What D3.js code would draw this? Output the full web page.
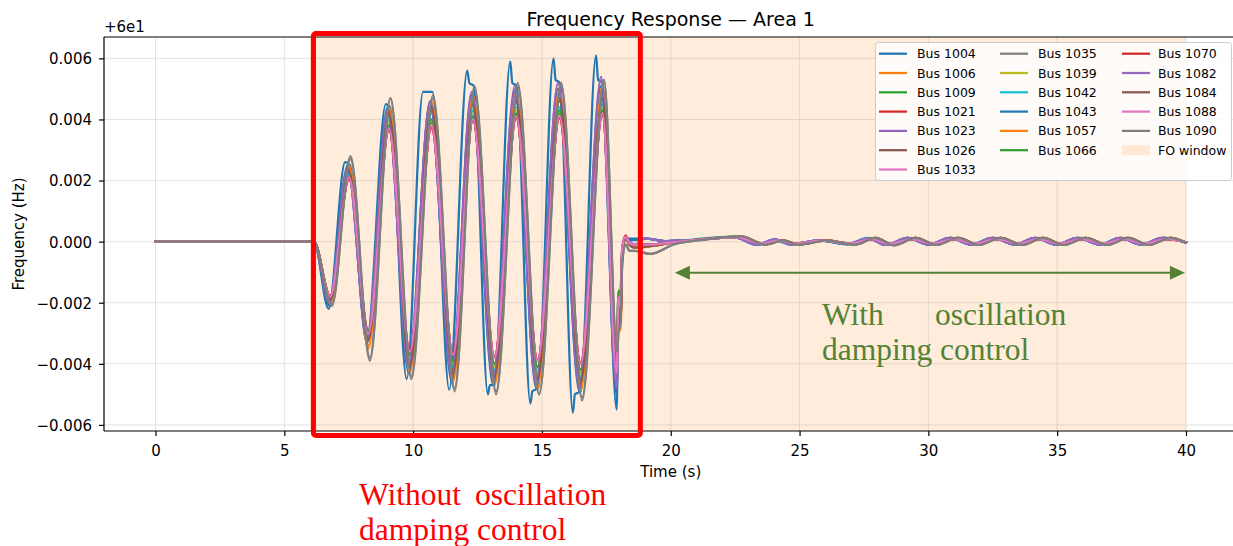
<!DOCTYPE html>
<html>
<head>
<meta charset="utf-8">
<script src="https://cdn.jsdelivr.net/npm/d3@7"></script>
<style>
  body { margin: 0; background: #fff; }
  svg { display: block; }
  text { font-family: "DejaVu Sans", sans-serif; fill: #000; }
  .serif { font-family: "Liberation Serif", "Times New Roman", serif; }
</style>
</head>
<body>
<svg id="chart" width="1233" height="546"></svg>
<script>
// ---- axis ticks and window ----
const xTicks = [0, 5, 10, 15, 20, 25, 30, 35, 40];
const yTicks = [-0.006, -0.004, -0.002, 0, 0.002, 0.004, 0.006];
const foWindow = [6, 40];

// ---- time bases (s) ----
const flatTimes = [0, 6.15];
const flatValues = [0, 0];
const swingTimes = [6.78, 7.51, 8.26, 9.06, 9.87, 10.71, 11.55, 12.32, 13.16, 14.0, 14.83, 15.68, 16.5, 17.35, 17.9];
const leadTimes  = [6.75, 7.46, 8.22, 9.01, 9.83, 10.66, 11.5, 12.27, 13.11, 13.95, 14.78, 15.63, 16.45, 17.3, 17.9];
const lagTimes   = [6.84, 7.57, 8.32, 9.12, 9.93, 10.77, 11.61, 12.38, 13.22, 14.06, 14.89, 15.74, 16.56, 17.41, 17.92];
const bus1004Times = [6.72, 7.36, 7.55, 8.2, 8.94, 9.1, 9.75, 10.38, 10.75, 11.4, 12.1, 12.18, 12.35, 12.9, 12.98, 13.15,
                      13.77, 13.85, 14.02, 14.55, 14.63, 14.85, 15.45, 15.53, 15.7, 16.2, 16.28, 16.5, 17.1, 17.18, 17.35, 17.9];
const settleTimes = [17.97, 18.05, 18.12, 18.25, 18.4, 18.6];
const tailTimes     = [19.1, 20.0, 21.0, 22.6, 23.5, 24.2, 24.8, 25.9, 27.0, 27.8, 28.5, 29.35, 30.15, 31.0, 31.8,
                       32.65, 33.5, 34.3, 35.1, 35.95, 36.8, 37.6, 38.4, 39.25, 40.0];
const tailTimesLead = [19.0, 19.85, 20.85, 22.45, 23.35, 24.05, 24.65, 25.75, 26.85, 27.65, 28.35, 29.2, 30.0, 30.85, 31.65,
                       32.5, 33.35, 34.15, 34.95, 35.8, 36.65, 37.45, 38.25, 39.1, 40.0];
const tailTimesLag  = [19.2, 20.15, 21.15, 22.75, 23.65, 24.35, 24.95, 26.05, 27.15, 27.95, 28.65, 29.5, 30.3, 31.15, 31.95,
                       32.8, 33.65, 34.45, 35.25, 36.1, 36.95, 37.75, 38.55, 39.4, 40.0];

// ---- frequency deviation from 60 Hz, undamped swing (Hz) ----
const bus1004Swing = [-0.0022, 0.0026, 0.0025, -0.0033, 0.0045, 0.0044, -0.0045, 0.0049, 0.0049, -0.00485, 0.0056, 0.0052, 0.0051,
                      -0.0050, -0.0047, -0.0047, 0.0059, 0.0052, 0.0051, -0.0053, -0.0049, -0.0048, 0.0060, 0.0053, 0.0052,
                      -0.0056, -0.0050, -0.0049, 0.0061, 0.0053, 0.0052, -0.0055];
const swing1006 = [-0.0020, 0.0024, -0.0034, 0.0043, -0.0042, 0.0045, -0.0045, 0.0047, -0.0046, 0.0048, -0.0047, 0.0049, -0.0048, 0.0050, -0.0045];
const swing1009 = [-0.0018, 0.0021, -0.0030, 0.0038, -0.0037, 0.0039, -0.0039, 0.0041, -0.0040, 0.0042, -0.0041, 0.0042, -0.0042, 0.0043, -0.0034];
const swing1021 = [-0.0018, 0.00204, -0.00292, 0.00364, -0.00357, 0.0037, -0.00367, 0.00397, -0.00377, 0.00404, -0.00387, 0.00404, -0.00397, 0.00414, -0.0040];
const swing1023 = [-0.0020, 0.0024, -0.0031, 0.0042, -0.0040, 0.0045, -0.0043, 0.0048, -0.0045, 0.0050, -0.0046, 0.0052, -0.0047, 0.0053, -0.0050];
const swing1026 = [-0.0019, 0.0023, -0.0032, 0.0041, -0.0040, 0.0043, -0.0042, 0.0045, -0.0043, 0.0046, -0.0044, 0.0046, -0.0045, 0.0047, -0.0040];
const swing1033 = [-0.00183, 0.00207, -0.00295, 0.00367, -0.0036, 0.00373, -0.0037, 0.0040, -0.0038, 0.00407, -0.0039, 0.00407, -0.0040, 0.00417, -0.0042];
const swing1035 = [-0.0021, 0.0028, -0.0039, 0.0047, -0.0045, 0.0047, -0.0049, 0.0051, -0.0050, 0.0052, -0.0050, 0.0052, -0.0052, 0.0053, -0.0038];
const swing1039 = [-0.0018, 0.0021, -0.0030, 0.0039, -0.0038, 0.0040, -0.0040, 0.0042, -0.0041, 0.0043, -0.0042, 0.0043, -0.0043, 0.0044, -0.0038];
const swing1042 = [-0.0019, 0.0022, -0.0031, 0.0040, -0.0039, 0.0042, -0.0041, 0.0043, -0.0042, 0.0044, -0.0043, 0.0044, -0.0044, 0.0045, -0.0040];
const swing1043 = [-0.0021, 0.0025, -0.0033, 0.0044, -0.0043, 0.0046, -0.0046, 0.0048, -0.0047, 0.0049, -0.0048, 0.0050, -0.0049, 0.0051, -0.0050];
const swing1057 = [-0.0020, 0.0025, -0.0035, 0.0044, -0.0043, 0.0046, -0.0046, 0.0048, -0.0047, 0.0049, -0.0048, 0.0050, -0.0049, 0.0051, -0.0046];
const swing1066 = [-0.0018, 0.0021, -0.0029, 0.0038, -0.0037, 0.0040, -0.0039, 0.0041, -0.0040, 0.0042, -0.0041, 0.0043, -0.0042, 0.0043, -0.0033];
const swing1070 = [-0.00177, 0.00207, -0.00297, 0.00367, -0.00357, 0.00377, -0.00367, 0.00397, -0.00377, 0.00407, -0.00387, 0.00407, -0.00397, 0.00417, -0.0041];
const swing1082 = [-0.0020, 0.0024, -0.0032, 0.0043, -0.0041, 0.0046, -0.0044, 0.0049, -0.0045, 0.0051, -0.0047, 0.0052, -0.0048, 0.0054, -0.0048];
const swing1084 = [-0.0019, 0.0023, -0.0032, 0.0042, -0.0041, 0.0044, -0.0043, 0.0045, -0.0044, 0.0046, -0.0045, 0.0047, -0.0046, 0.0047, -0.0041];
const swing1088 = [-0.0018, 0.0021, -0.0030, 0.0037, -0.0036, 0.0038, -0.0037, 0.0040, -0.0038, 0.0041, -0.0039, 0.0041, -0.0040, 0.0042, -0.0043];
const swing1090 = [-0.0021, 0.0027, -0.0038, 0.0047, -0.0044, 0.0048, -0.0048, 0.0050, -0.0049, 0.0051, -0.0050, 0.0052, -0.0051, 0.0053, -0.0036];

// ---- controller switching in (Hz) ----
const settle1004 = [-0.0020, -0.0026, -0.0003, 0.0001, 0.0001, 0.0001];
const settle1006 = [-0.0024, -0.0028, -0.0004, 0.0001, -0.0001, -0.0001];
const settle1009 = [-0.0016, -0.0019, -0.0003, 0.00012, -0.00005, -0.0001];
const settle1021 = [-0.0020, -0.0024, -0.0002, 0.0002, -0.00005, -0.0001];
const settle1023 = [-0.0022, -0.0017, -0.0002, 0.00012, 0.0, -0.0001];
const settle1026 = [-0.0021, -0.0026, -0.0004, 0.0001, -0.0001, -0.0002];
const settle1033 = [-0.0018, -0.0022, -0.0003, 0.00018, -0.00005, -0.0001];
const settle1035 = [-0.0029, -0.0025, -0.0006, -0.0001, -0.0003, -0.0003];
const settle1039 = [-0.0019, -0.0023, -0.0003, 0.0001, -0.0001, -0.0001];
const settle1042 = [-0.0020, -0.0025, -0.0003, 0.0001, -0.0001, -0.0001];
const settle1043 = [-0.0021, -0.0024, -0.0003, 0.0001, 0.00005, 0.00005];
const settle1057 = [-0.0025, -0.0029, -0.0005, 0.0001, -0.0001, -0.0002];
const settle1066 = [-0.0016, -0.0020, -0.0003, 0.0001, -0.00005, -0.0001];
const settle1070 = [-0.0021, -0.0025, -0.0002, 0.0002, -0.00005, -0.0001];
const settle1082 = [-0.0023, -0.0018, -0.0002, 0.00012, 0.0, -0.0001];
const settle1084 = [-0.0022, -0.0027, -0.0004, 0.0001, -0.0001, -0.0002];
const settle1088 = [-0.0018, -0.0021, -0.0002, 0.00016, -0.00005, -0.0001];
const settle1090 = [-0.0030, -0.0026, -0.0007, -0.0001, -0.0003, -0.0003];

// ---- damped residual (Hz) ----
const tailLead  = [0.0001, 0.00002, 0.00005, 0.00015, -0.0001, 0.00007, -0.00009, 0.00004, -0.00008, 0.00011, -0.00011, 0.00012, -0.0001,
                   0.00012, -0.0001, 0.00012, -0.0001, 0.00012, -0.0001, 0.00012, -0.0001, 0.00012, -0.0001, 0.00012, -0.00003];
const tailMid   = [-0.00015, -0.00002, 0.00007, 0.00016, -0.00009, 0.00004, -0.00009, 0.00004, -0.00009, 0.00012, -0.00011, 0.00012, -0.0001,
                   0.00012, -0.0001, 0.00012, -0.0001, 0.00012, -0.0001, 0.00012, -0.0001, 0.00012, -0.0001, 0.00012, -0.00003];
const tailSmall = [-0.0001, -0.00003, 0.00006, 0.00014, -0.00006, 0.00003, -0.00006, 0.00003, -0.00006, 0.00008, -0.00008, 0.00008, -0.00006,
                   0.00008, -0.00006, 0.00008, -0.00006, 0.00008, -0.00006, 0.00008, -0.00006, 0.00008, -0.00006, 0.00008, -0.00002];
const tailLag   = [-0.0004, -0.00008, 0.00005, 0.00017, -0.0001, 0.00003, -0.0001, 0.00003, -0.0001, 0.00012, -0.00012, 0.00012, -0.00011,
                   0.00012, -0.00011, 0.00012, -0.00011, 0.00012, -0.00011, 0.00012, -0.00011, 0.00012, -0.00011, 0.00012, -0.00004];

const buses = [
  { name: "Bus 1004", times: bus1004Times, swing: bus1004Swing, settle: settle1004, tt: tailTimesLead, tail: tailLead },
  { name: "Bus 1006", times: swingTimes, swing: swing1006, settle: settle1006, tt: tailTimesLag,  tail: tailMid },
  { name: "Bus 1009", times: swingTimes, swing: swing1009, settle: settle1009, tt: tailTimes,     tail: tailSmall },
  { name: "Bus 1021", times: swingTimes, swing: swing1021, settle: settle1021, tt: tailTimes,     tail: tailSmall },
  { name: "Bus 1023", times: leadTimes,  swing: swing1023, settle: settle1023, tt: tailTimesLead, tail: tailLead },
  { name: "Bus 1026", times: swingTimes, swing: swing1026, settle: settle1026, tt: tailTimesLag,  tail: tailMid },
  { name: "Bus 1033", times: swingTimes, swing: swing1033, settle: settle1033, tt: tailTimes,     tail: tailSmall },
  { name: "Bus 1035", times: lagTimes,   swing: swing1035, settle: settle1035, tt: tailTimesLag,  tail: tailLag },
  { name: "Bus 1039", times: swingTimes, swing: swing1039, settle: settle1039, tt: tailTimes,     tail: tailMid },
  { name: "Bus 1042", times: swingTimes, swing: swing1042, settle: settle1042, tt: tailTimesLead, tail: tailMid },
  { name: "Bus 1043", times: leadTimes,  swing: swing1043, settle: settle1043, tt: tailTimesLead, tail: tailLead },
  { name: "Bus 1057", times: swingTimes, swing: swing1057, settle: settle1057, tt: tailTimesLag,  tail: tailMid },
  { name: "Bus 1066", times: swingTimes, swing: swing1066, settle: settle1066, tt: tailTimes,     tail: tailSmall },
  { name: "Bus 1070", times: swingTimes, swing: swing1070, settle: settle1070, tt: tailTimes,     tail: tailSmall },
  { name: "Bus 1082", times: leadTimes,  swing: swing1082, settle: settle1082, tt: tailTimesLead, tail: tailLead },
  { name: "Bus 1084", times: swingTimes, swing: swing1084, settle: settle1084, tt: tailTimesLag,  tail: tailMid },
  { name: "Bus 1088", times: swingTimes, swing: swing1088, settle: settle1088, tt: tailTimes,     tail: tailSmall },
  { name: "Bus 1090", times: lagTimes,   swing: swing1090, settle: settle1090, tt: tailTimesLag,  tail: tailLag }
];

// ---- layout ----
const plot = { left: 104, right: 1237.5, top: 37, bottom: 431 };
const svg = d3.select("#chart");
const x = d3.scaleLinear().domain([-2, 42]).range([plot.left, plot.right]);
const y = d3.scaleLinear().domain([-0.0062, 0.0067]).range([plot.bottom, plot.top]);
const palette = d3.schemeCategory10;
const lineWidth = 2.25;

svg.append("defs").append("clipPath").attr("id", "plot-clip")
  .append("rect").attr("x", plot.left).attr("y", plot.top)
  .attr("width", plot.right - plot.left).attr("height", plot.bottom - plot.top);

// FO window span
svg.append("rect")
  .attr("x", x(foWindow[0])).attr("y", plot.top)
  .attr("width", x(foWindow[1]) - x(foWindow[0])).attr("height", plot.bottom - plot.top)
  .attr("fill", "#ff7f0e").attr("fill-opacity", 0.15);

// grid
const grid = svg.append("g").attr("stroke", "#b0b0b0").attr("stroke-opacity", 0.35).attr("stroke-width", 1);
grid.selectAll(".gx").data(xTicks).join("line")
  .attr("x1", d => x(d)).attr("x2", d => x(d)).attr("y1", plot.top).attr("y2", plot.bottom);
grid.selectAll(".gy").data(yTicks).join("line")
  .attr("x1", plot.left).attr("x2", plot.right).attr("y1", d => y(d)).attr("y2", d => y(d));

// series
const line = d3.line().x(d => x(d[0])).y(d => y(d[1])).curve(d3.curveMonotoneX);
const series = buses.map((b, i) => {
  const t = flatTimes.concat(b.times, settleTimes, b.tt);
  const v = flatValues.concat(b.swing, b.settle, b.tail);
  return { name: b.name, color: palette[i % 10], points: t.map((tt, k) => [tt, v[k]]) };
});
svg.append("g").attr("clip-path", "url(#plot-clip)")
  .selectAll("path").data(series).join("path")
  .attr("d", d => line(d.points))
  .attr("fill", "none")
  .attr("stroke", d => d.color)
  .attr("stroke-width", lineWidth)
  .attr("stroke-linejoin", "round")
  .attr("stroke-linecap", "square");

// axes
const xAxis = svg.append("g").attr("transform", `translate(0,${plot.bottom})`)
  .call(d3.axisBottom(x).tickValues(xTicks).tickSize(5).tickSizeOuter(0).tickFormat(d3.format("d")));
xAxis.select(".domain").remove();
xAxis.selectAll("line").attr("stroke", "#000").attr("stroke-width", 1.2);
xAxis.selectAll("text").attr("y", 25).attr("dy", null).style("font-size", "15px").style("font-family", "DejaVu Sans");

const yAxis = svg.append("g").attr("transform", `translate(${plot.left},0)`)
  .call(d3.axisLeft(y).tickValues(yTicks).tickSize(5).tickPadding(7).tickSizeOuter(0).tickFormat(d3.format(".3f")));
yAxis.select(".domain").remove();
yAxis.selectAll("line").attr("stroke", "#000").attr("stroke-width", 1.2);
yAxis.selectAll("text").attr("dy", "0.36em").style("font-size", "15px").style("font-family", "DejaVu Sans");

// spines (right spine falls outside the canvas)
const spines = svg.append("g").attr("stroke", "#000").attr("stroke-width", 1.2);
spines.append("line").attr("x1", plot.left).attr("x2", plot.left).attr("y1", plot.top).attr("y2", plot.bottom);
spines.append("line").attr("x1", plot.left).attr("x2", plot.right).attr("y1", plot.top).attr("y2", plot.top);
spines.append("line").attr("x1", plot.left).attr("x2", plot.right).attr("y1", plot.bottom).attr("y2", plot.bottom);

// titles
svg.append("text").attr("x", (plot.left + plot.right) / 2).attr("y", 26)
  .attr("text-anchor", "middle").style("font-size", "19px").text("Frequency Response — Area 1");
svg.append("text").attr("x", plot.left).attr("y", 32).style("font-size", "15px").text("+6e1");
svg.append("text").attr("x", (plot.left + plot.right) / 2).attr("y", 477)
  .attr("text-anchor", "middle").style("font-size", "15px").text("Time (s)");
svg.append("text").attr("transform", `translate(24,${(plot.top + plot.bottom) / 2}) rotate(-90)`)
  .attr("text-anchor", "middle").style("font-size", "15px").text("Frequency (Hz)");

// legend
const legendItems = series.map(s => ({ label: s.name, color: s.color, kind: "line" }))
  .concat([{ label: "FO window", color: "#ff7f0e", kind: "patch" }]);
const legend = svg.append("g");
legend.append("rect").attr("x", 875.5).attr("y", 42.5).attr("width", 356).attr("height", 138)
  .attr("rx", 3).attr("fill", "#fff").attr("fill-opacity", 0.8).attr("stroke", "#cccccc").attr("stroke-width", 1);
const colHandle = [879, 1000, 1122], colText = [917, 1038, 1158], perCol = [7, 6, 6];
let idx = 0;
perCol.forEach((n, c) => {
  for (let r = 0; r < n; r++, idx++) {
    const it = legendItems[idx];
    const cy = 53.7 + r * 19.3;
    if (it.kind === "line") {
      legend.append("line").attr("x1", colHandle[c]).attr("x2", colHandle[c] + 28)
        .attr("y1", cy).attr("y2", cy).attr("stroke", it.color).attr("stroke-width", lineWidth);
    } else {
      legend.append("rect").attr("x", colHandle[c]).attr("y", cy - 5).attr("width", 28).attr("height", 10)
        .attr("fill", it.color).attr("fill-opacity", 0.15);
    }
    legend.append("text").attr("x", colText[c]).attr("y", cy).attr("dy", "0.36em")
      .style("font-size", "12.5px").text(it.label);
  }
});

// annotations
const redBox = { t0: 6.13, t1: 18.82 };
svg.append("rect")
  .attr("x", x(redBox.t0)).attr("y", plot.top - 3.5)
  .attr("width", x(redBox.t1) - x(redBox.t0)).attr("height", plot.bottom - plot.top + 8)
  .attr("rx", 2.5).attr("fill", "none").attr("stroke", "#ff0000").attr("stroke-width", 5);

const redText = svg.append("text").attr("class", "serif").style("font-size", "31.5px").style("fill", "#ff0000");
redText.append("tspan").attr("x", 359).attr("y", 505).text("Without");
redText.append("tspan").attr("x", 475).attr("y", 505).text("oscillation");
redText.append("tspan").attr("x", 359).attr("y", 540).text("damping control");

const green = "#548235";
const arrow = { t0: 20.16, t1: 39.96, v: -0.00102 };
const ay = y(arrow.v), ax0 = x(arrow.t0), ax1 = x(arrow.t1), head = 15, half = 7;
svg.append("line").attr("x1", ax0 + head - 2).attr("x2", ax1 - head + 2).attr("y1", ay).attr("y2", ay)
  .attr("stroke", green).attr("stroke-width", 2);
svg.append("path").attr("fill", green)
  .attr("d", `M${ax0},${ay}L${ax0 + head},${ay - half}L${ax0 + head},${ay + half}Z`);
svg.append("path").attr("fill", green)
  .attr("d", `M${ax1},${ay}L${ax1 - head},${ay - half}L${ax1 - head},${ay + half}Z`);

const greenText = svg.append("text").attr("class", "serif").style("font-size", "31.5px").style("fill", green);
greenText.append("tspan").attr("x", 822).attr("y", 325).text("With");
greenText.append("tspan").attr("x", 935).attr("y", 325).text("oscillation");
greenText.append("tspan").attr("x", 822).attr("y", 360).text("damping control");
</script>
</body>
</html>
